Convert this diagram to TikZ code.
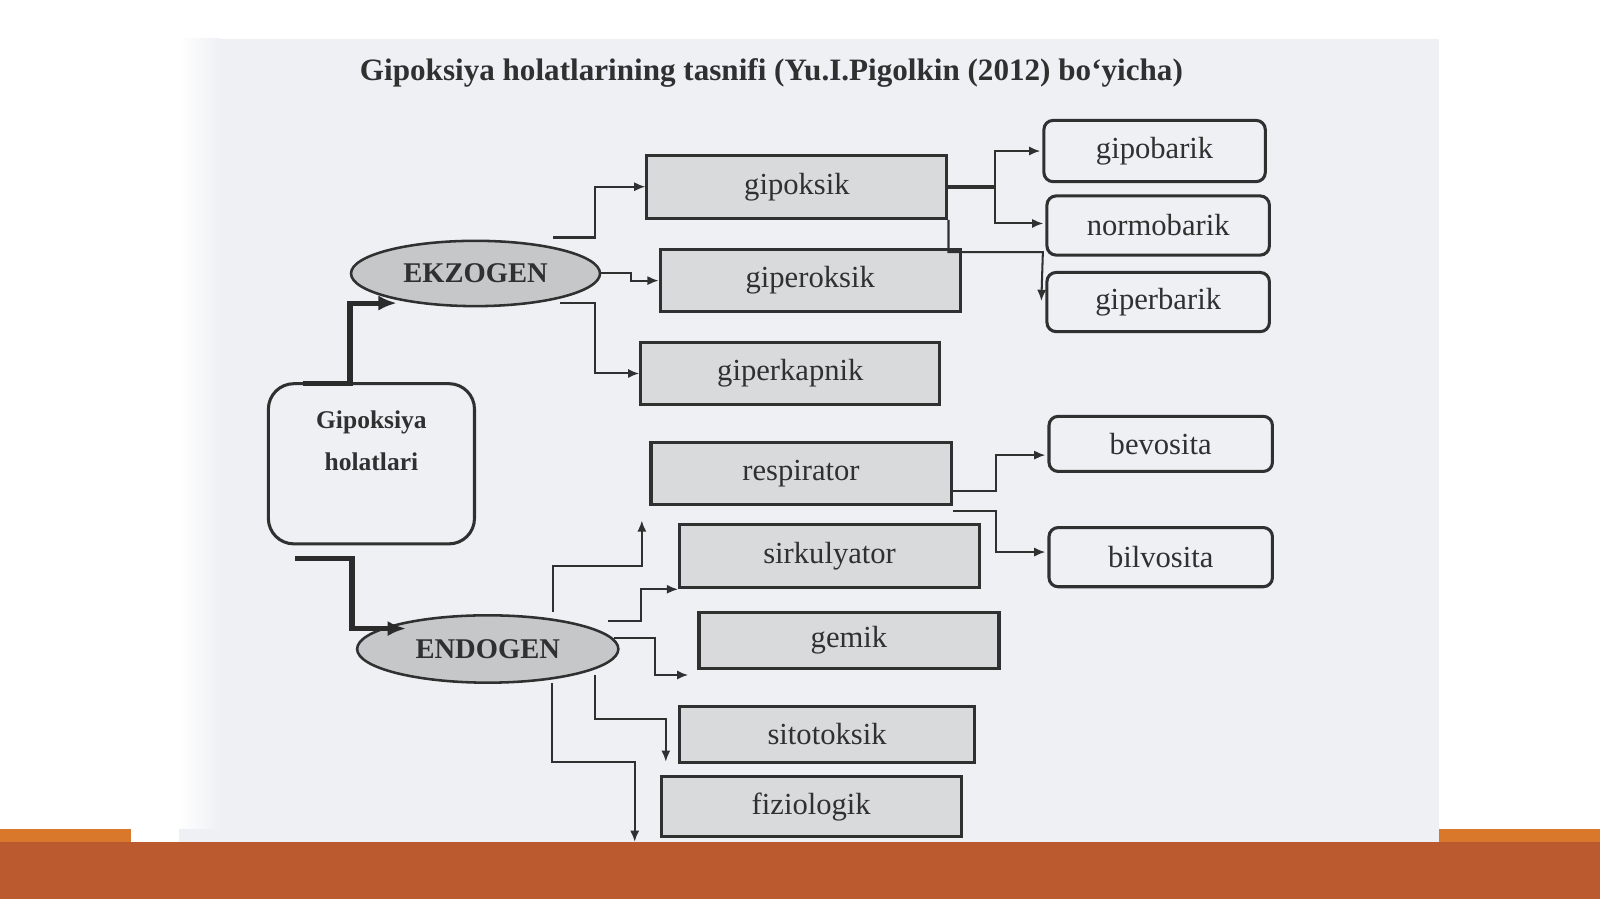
\documentclass[tikz,border=0pt]{standalone}
\usepackage{fontspec}
\setmainfont{Liberation Serif}
\usetikzlibrary{arrows.meta,shapes.geometric,calc}
\definecolor{ink}{HTML}{303030}
\definecolor{paper}{HTML}{EEF0F4}
\definecolor{boxgray}{HTML}{D9DADC}
\definecolor{ellgray}{HTML}{C6C7C9}
\definecolor{orangeA}{HTML}{D9772B}
\definecolor{orangeB}{HTML}{BC5A2F}
\begin{document}
\begin{tikzpicture}[x=1pt,y=-1pt,
  graybox/.style={draw=ink,line width=3,fill=boxgray,minimum width=294,minimum height=60,inner sep=0,font=\fontsize{30}{30}\selectfont,text=ink},
  roundbox/.style={draw=ink,line width=3,fill=paper,rounded corners=9,minimum width=218,minimum height=58,inner sep=0,font=\fontsize{30}{30}\selectfont,text=ink},
  ell/.style={ellipse,draw=ink,line width=2.5,fill=ellgray,inner sep=0,font=\fontsize{28}{30}\selectfont\bfseries,text=ink},
  conn/.style={draw=ink,line width=2,-{Latex[length=11,width=9]}},
  thickarrow/.style={draw=ink!90!black,line width=5,-{Latex[length=18,width=15]}},
  stem/.style={draw=ink,line width=3.5}
]
\useasboundingbox (0,0) rectangle (1568,881);
\fill[white] (0,0) rectangle (1568,881);
% scanned page
\fill[paper] (215,38) rectangle (1410,825);
\shade[left color=white,right color=paper] (175,38) rectangle (216,825);
% orange band
\fill[orangeA] (0,812) rectangle (1568,825);
\fill[orangeB] (0,825) rectangle (1568,881);
\fill[paper] (128,812) rectangle (1410,825);
\fill[white] (128,812) rectangle (175,825);

% title
\node[font=\fontsize{30.5}{32}\selectfont\bfseries,text=ink] (title) at (756,72)
  {Gipoksiya holatlarining tasnifi (Yu.I.Pigolkin (2012) bo‘yicha)};

% source box
\node[draw=ink,line width=3,fill=paper,rounded corners=25,minimum width=202,minimum height=157,inner sep=0] (src) at (364,454.5) {};
\node[font=\fontsize{25}{41}\selectfont\bfseries,align=center,text=ink] (srctext) at (364,432) {Gipoksiya\\holatlari};

% ellipses
\node[ell,minimum width=244,minimum height=64] (ekz) at (466,268) {EKZOGEN};
\node[ell,minimum width=256,minimum height=66] (endo) at (478,636) {ENDOGEN};

% gray boxes
\node[graybox,minimum height=62] (gipoksik) at (781,183) {gipoksik};
\node[graybox,minimum height=61] (giperoksik) at (794,275) {giperoksik};
\node[graybox,minimum width=293] (giperkapnik) at (774.5,366) {giperkapnik};
\node[graybox] (respirator) at (785,464) {respirator};
\node[graybox,minimum height=62] (sirkulyator) at (813,545) {sirkulyator};
\node[graybox,minimum height=55] (gemik) at (832,627.5) {gemik};
\node[graybox,minimum width=289,minimum height=55] (sitotoksik) at (810.5,719.5) {sitotoksik};
\node[graybox,minimum height=59] (fiziologik) at (795,790.5) {fiziologik};

% right rounded boxes
\node[roundbox,minimum width=217,minimum height=60] (gipobarik) at (1131.5,148) {gipobarik};
\node[roundbox] (normobarik) at (1135,221) {normobarik};
\node[roundbox] (giperbarik) at (1135,296) {giperbarik};
\node[roundbox,minimum width=219,minimum height=54] (bevosita) at (1137.5,435) {bevosita};
\node[roundbox,minimum width=219] (bilvosita) at (1137.5,546) {bilvosita};

% thick arrows from source
\draw[thickarrow] ($(src.north west)+(35,1)$) -| (343,297) -- ($(ekz.west)+(46,29)$);
\draw[thickarrow] ($(src.south west)+(28,13)$) -| (345,616) -- ($(endo.west)+(49,-20)$);

% EKZOGEN branches
\draw[conn] ($(ekz.north)+(76,-2)$) -| ($(gipoksik.west)+(-49,0)$) -- (gipoksik.west);
\draw[conn] (ekz.east) -- ++(29,0) |- (giperoksik.west);
\draw[conn] ($(ekz.south)+(83,-4)$) -| ($(giperkapnik.west)+(-43,0)$) -- (giperkapnik.west);

% gipoksik branches
\coordinate (j1) at (975,183);
\draw[stem] (gipoksik.east) -- (j1);
\draw[conn] (j1) |- ($(gipobarik.west)+(-2,0)$);
\draw[conn] (j1) |- ($(normobarik.west)+(-2,-2)$);
\coordinate (j2) at (1022,247);
\draw[conn] (gipoksik.south east) |- (j2) -- ($(giperbarik.west)+(-4,-1)$);

% respirator branches
\draw[conn] ($(respirator.east)+(0,17)$) -| ($(bevosita.west)+(-50,11)$) -- ($(bevosita.west)+(-2,11)$);
\draw[conn] ($(respirator.south east)+(0,5)$) -| ($(bilvosita.west)+(-50,-5)$) -- ($(bilvosita.west)+(-2,-5)$);

% ENDOGEN branches
\coordinate (up1) at (629,510);
\coordinate (down1) at (622,825);
\draw[conn] ($(endo.north)+(64,-2)$) |- (629,555) -- (up1);
\draw[conn] ($(endo.east)+(-11,-27)$) -| ($(sirkulyator.south west)+(-36,0)$) -- (sirkulyator.south west);
\draw[conn] ($(endo.east)+(-6,-11)$) -| ($(gemik.south west)+(-42,5)$) -- ($(gemik.south west)+(-9,5)$);
\draw[conn] ($(endo.south)+(105,-9)$) |- ($(sitotoksik.south west)+(-12,-44)$) -- ($(sitotoksik.south west)+(-12,-2)$);
\draw[conn] ($(endo.south)+(63,-1)$) |- (622,747) -- (down1);
\end{tikzpicture}
\end{document}
